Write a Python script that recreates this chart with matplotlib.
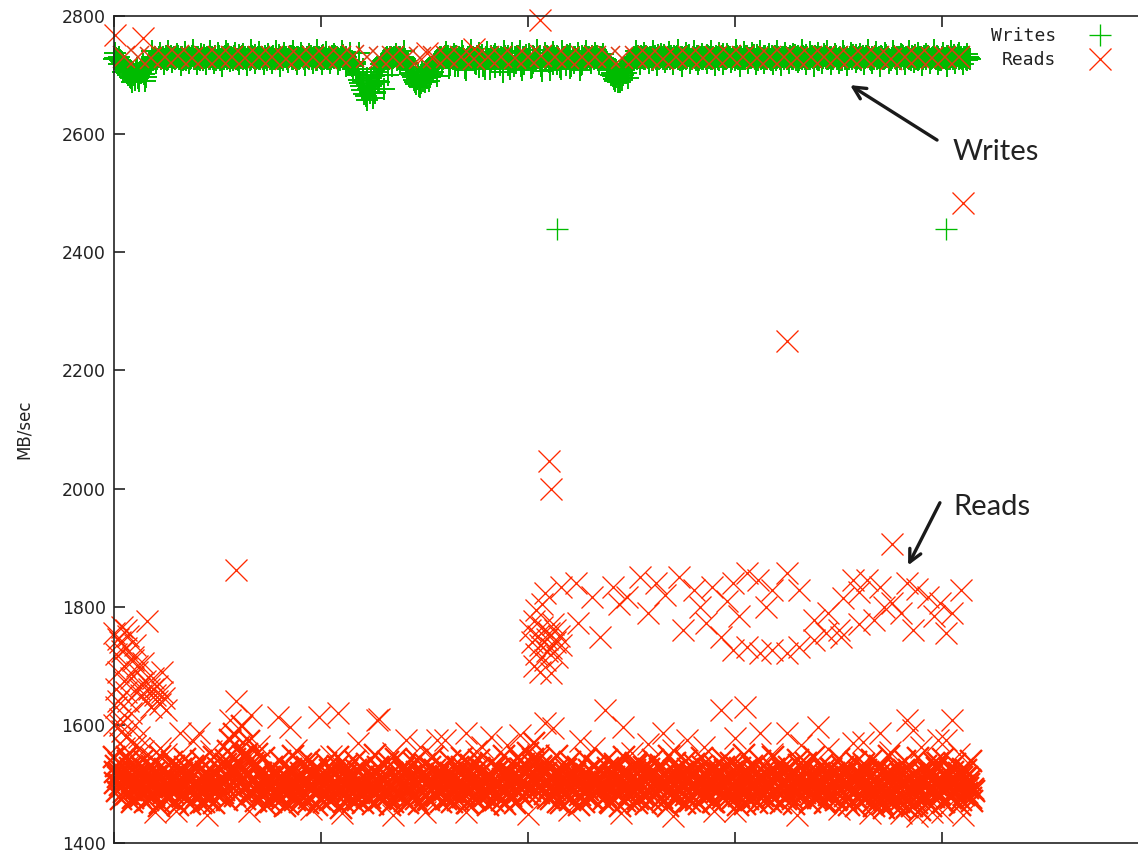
import numpy as np
import matplotlib
matplotlib.use("Agg")
import matplotlib.pyplot as plt

# ---------------- data (time in sample units, MB/sec) ----------------
writes_y = [
    2728,2729,2727,2726,2722,2715,2708,2700,2695,2705,2692,2712,2698,2703,2718,2690,2710,2720,2724,2727,2730,2728,2731,
    2729,2727,2732,2728,2730,2726,2731,2729,2733,2727,2730,2728,2725,2731,2729,2734,2727,2730,2728,2732,2726,2729,2731,
    2728,2730,2727,2733,2729,2726,2731,2728,2730,2735,2727,2729,2732,2728,2726,2730,2733,2729,2727,2731,2728,2730,2734,
    2729,2727,2731,2728,2733,2726,2730,2729,2732,2728,2727,2731,2729,2734,2730,2727,2732,2728,2730,2726,2731,2729,2733,
    2728,2730,2727,2732,2729,2731,2726,2730,2728,2734,2729,2727,2731,2728,2730,2733,2729,2726,2731,2728,2730,2725,2720,
    2715,2722,2705,2700,2687,2675,2668,2658,2680,2695,2662,2672,2700,2710,2718,2724,2728,2730,2727,2731,2729,2732,2728,
    2730,2726,2729,2724,2718,2710,2700,2692,2685,2698,2680,2705,2688,2695,2710,2702,2715,2722,2726,2729,2731,2728,2733,
    2729,2712,2730,2727,2732,2715,2729,2731,2728,2708,2730,2733,2727,2729,2718,2731,2728,2734,2710,2730,2727,2732,2729,
    2714,2731,2728,2730,2706,2733,2729,2727,2731,2716,2729,2732,2728,2709,2730,2734,2727,2729,2713,2731,2728,2730,2732,
    2707,2729,2733,2727,2731,2719,2729,2732,2728,2711,2730,2727,2734,2729,2715,2731,2728,2730,2708,2732,2729,2727,2731,
    2729,2733,2728,2730,2726,2731,2729,2727,2722,2716,2708,2698,2690,2702,2695,2705,2700,2712,2718,2724,2728,2731,2729,
    2732,2728,2730,2727,2733,2729,2731,2726,2730,2728,2734,2729,2727,2731,2728,2730,2732,2726,2729,2733,2728,2730,2727,
    2731,2729,2734,2728,2730,2726,2732,2729,2727,2731,2728,2733,2730,2727,2729,2732,2728,2730,2735,2727,2729,2731,2728,
    2730,2726,2733,2729,2731,2728,2727,2732,2729,2730,2734,2728,2726,2731,2729,2733,2727,2730,2728,2732,2729,2726,2731,
    2728,2730,2733,2727,2729,2731,2728,2734,2730,2726,2729,2732,2728,2730,2727,2733,2729,2731,2726,2730,2728,2735,2729,
    2727,2731,2728,2730,2733,2729,2726,2732,2728,2730,2727,2731,2734,2729,2728,2730,2726,2733,2729,2731,2727,2730,2728,
    2732,2729,2727,2731,2728,2734,2730,2726,2729,2732,2728,2730,2727,2733,2729,2731,2728,2726,2730,2734,2729,2727,2731,
    2728,2730,2732,2727,2729,2733,2728,2730,2726,2731,2729,2727,2732,2728,2730,2734,2729,2727,2731,2728,2730,2726,2729,
]
# second write sample in each time unit (t + 0.5)
writes_y2 = [
    2729,2727,2730,2724,2718,2710,2703,2697,2688,2700,2708,2695,2704,2713,2701,2696,2715,2722,2726,2729,2727,2730,2728,
    2731,2728,2726,2730,2733,2729,2727,2731,2728,2730,2726,2732,2729,2727,2733,2728,2730,2731,2726,2729,2734,2728,2730,
    2727,2731,2729,2726,2732,2728,2730,2733,2727,2729,2731,2726,2730,2728,2734,2729,2727,2731,2730,2726,2732,2729,2728,
    2731,2728,2730,2726,2729,2733,2727,2731,2728,2730,2734,2729,2726,2731,2728,2730,2732,2727,2729,2731,2728,2733,2730,
    2727,2729,2732,2728,2730,2726,2731,2729,2733,2727,2730,2728,2726,2732,2729,2731,2727,2730,2734,2728,2726,2722,2717,
    2710,2718,2702,2692,2682,2690,2665,2677,2670,2685,2698,2705,2690,2712,2721,2726,2729,2727,2731,2728,2730,2726,2731,
    2728,2730,2727,2721,2714,2704,2696,2688,2693,2682,2700,2690,2699,2707,2697,2712,2719,2724,2728,2730,2727,2731,2729,
    2733,2727,2730,2716,2728,2731,2729,2732,2712,2728,2730,2727,2731,2729,2733,2714,2730,2728,2731,2727,2711,2729,2732,
    2728,2730,2717,2729,2731,2727,2733,2710,2728,2730,2732,2727,2715,2731,2729,2728,2730,2712,2733,2727,2729,2731,2716,
    2730,2727,2731,2709,2729,2732,2728,2730,2714,2727,2731,2729,2733,2712,2728,2730,2727,2731,2717,2729,2733,2728,2730,
    2727,2731,2729,2733,2728,2730,2727,2725,2719,2712,2703,2694,2697,2688,2699,2692,2708,2704,2715,2721,2726,2729,2727,
    2730,2733,2729,2727,2731,2728,2730,2726,2732,2729,2727,2731,2734,2728,2730,2727,2729,2733,2731,2728,2726,2730,2729,
    2728,2732,2727,2730,2729,2733,2726,2731,2728,2730,2734,2729,2727,2731,2728,2730,2726,2732,2729,2727,2733,2730,2728,
    2731,2729,2727,2733,2728,2730,2732,2726,2729,2731,2728,2734,2730,2727,2729,2732,2728,2730,2726,2731,2733,2729,2727,
    2730,2728,2731,2729,2733,2727,2730,2726,2732,2729,2728,2731,2734,2727,2730,2729,2732,2728,2726,2731,2729,2733,2727,
    2729,2731,2727,2733,2728,2730,2726,2732,2729,2727,2731,2728,2730,2734,2729,2727,2731,2728,2733,2730,2726,2729,2732,
    2728,2730,2733,2727,2729,2731,2728,2726,2732,2729,2730,2727,2734,2728,2731,2729,2727,2733,2730,2728,2726,2731,2729,
    2732,2728,2730,2727,2731,2729,2733,2728,2726,2730,2729,2732,2727,2731,2728,2730,2734,2729,2727,2731,2728,2730,2727,
]
# wider-spread write samples every 2 time units (t = 2i + 0.25)
writes_y3 = [
    2738,2719,2705,2712,2696,2702,2690,2708,2716,2740,2720,2737,2718,2741,2722,2736,2717,2739,2721,2742,2719,2735,2718,
    2740,2720,2737,2716,2741,2723,2738,2719,2736,2717,2742,2721,2739,2718,2735,2720,2740,2716,2737,2722,2741,2719,2738,
    2717,2736,2720,2742,2718,2739,2721,2735,2719,2740,2716,2738,2722,2737,2710,2695,2682,2670,2688,2676,2700,2715,2736,
    2719,2741,2720,2708,2693,2686,2700,2690,2705,2698,2718,2739,2717,2736,2721,2740,2718,2742,2720,2737,2716,2739,2722,
    2736,2719,2741,2717,2738,2721,2740,2718,2735,2720,2742,2716,2737,2722,2739,2719,2741,2717,2736,2720,2738,2718,2740,
    2721,2737,2719,2736,2712,2700,2692,2688,2703,2695,2712,2740,2718,2738,2720,2741,2717,2736,2722,2739,2719,2742,2716,
    2737,2720,2740,2718,2735,2721,2741,2717,2738,2719,2736,2722,2742,2716,2739,2720,2737,2718,2740,2721,2736,2719,2741,
    2717,2738,2720,2735,2722,2742,2718,2739,2716,2737,2721,2740,2719,2736,2720,2741,2717,2738,2722,2735,2718,2742,2720,
    2739,2716,2737,2721,2740,2719,2736,2718,2741,2722,2738,2717,2735,2720,2742,2719,2737,2716,2740,2721,2738,2718,2736,
]
writes_out_x = [214, 402]
writes_out_y = [2439, 2440]

reads_band_y = [
    1545,1530,1512,1498,1520,1486,1505,1538,1490,1476,1510,1495,1482,1528,1500,1470,1515,1489,1502,1478,1520,1493,1468,1507,1485,1499,
    1512,1477,1495,1530,1488,1465,1503,1519,1482,1497,1474,1510,1491,1525,1480,1500,1468,1514,1487,1506,1473,1496,1521,1484,1502,1479,
    1509,1490,1540,1556,1575,1520,1585,1498,1560,1530,1598,1510,1545,1572,1488,1535,1506,1550,1492,1518,1478,1503,1486,1512,1470,1497,
    1483,1508,1492,1475,1516,1500,1466,1489,1522,1481,1504,1495,1470,1511,1487,1528,1476,1499,1514,1483,1465,1506,1492,1519,1479,1501,
    1488,1512,1474,1497,1531,1485,1503,1469,1515,1492,1480,1508,1496,1524,1472,1500,1487,1513,1478,1505,1493,1466,1518,1484,1501,1476,
    1509,1490,1527,1481,1498,1470,1514,1486,1503,1479,1520,1494,1467,1510,1488,1535,1475,1502,1491,1517,1482,1499,1473,1508,1495,1523,
    1480,1504,1469,1513,1490,1500,1477,1519,1486,1507,1472,1496,1529,1483,1511,1468,1502,1489,1516,1475,1498,1492,1521,1479,1505,1487,
    1514,1471,1499,1485,1526,1493,1508,1466,1497,1518,1480,1503,1490,1545,1512,1478,1534,1500,1552,1488,1520,1570,1505,1540,1495,1515,
    1483,1530,1502,1474,1511,1489,1497,1520,1468,1506,1484,1515,1492,1477,1509,1498,1525,1481,1503,1470,1516,1490,1507,1476,1499,1513,
    1486,1522,1473,1504,1495,1510,1467,1501,1488,1528,1479,1512,1494,1471,1517,1483,1506,1497,1531,1475,1500,1489,1519,1466,1508,1485,
    1514,1478,1502,1492,1525,1470,1505,1487,1511,1481,1498,1536,1474,1509,1490,1520,1468,1503,1484,1516,1495,1472,1507,1488,1530,1479,
    1500,1513,1482,1496,1469,1518,1491,1505,1476,1523,1487,1501,1473,1510,1494,1527,1480,1499,1516,1466,1504,1489,1512,1477,1497,1521,
    1484,1506,1471,1515,1493,1500,1478,1526,1488,1509,1467,1502,1519,1482,1495,1511,1474,1503,1490,1532,1479,1498,1485,1517,1470,1507,
    1492,1514,1476,1501,1488,1524,1469,1510,1496,1483,1518,1473,1505,1491,1528,1480,1499,1465,1512,1487,1503,1477,1520,1494,1508,1472,
    1496,1481,1513,1462,1500,1488,1475,1521,1459,1497,1484,1510,1466,1503,1490,1470,1517,1479,1505,1461,1494,1512,1483,1499,1468,1508,
    1486,1520,1474,1502,1491,1515,1478,1498,1535,1483,1507,1469,1512,1493,1525,1480,1503,1488,1518,1472,1496,1510,1484,1500,1477,1492,
]
# second read sample in each time unit (t + 0.5)
reads_band_y2 = [
    1502,1488,1519,1475,1496,1511,1483,1527,1469,1505,1492,1516,1478,1500,1486,1523,1472,1508,1495,1481,1514,1463,1499,1490,1526,1477,
    1497,1509,1484,1471,1518,1493,1505,1480,1529,1489,1466,1512,1498,1476,1521,1487,1503,1470,1515,1494,1482,1510,1468,1501,1491,1524,
    1485,1507,1473,1512,1496,1529,1480,1520,1502,1488,1548,1475,1514,1499,1483,1510,1471,1497,1518,1486,1505,1464,1493,1511,1480,1502,
    1517,1478,1498,1489,1463,1510,1484,1526,1494,1472,1508,1487,1519,1479,1501,1467,1496,1511,1484,1523,1490,1475,1506,1470,1514,1488,
    1473,1500,1519,1482,1491,1460,1506,1481,1524,1495,1514,1471,1489,1503,1485,1527,1468,1509,1493,1476,1516,1488,1500,1529,1474,1511,
    1495,1478,1504,1464,1519,1492,1483,1510,1497,1526,1471,1505,1488,1515,1479,1498,1521,1466,1507,1485,1513,1474,1528,1490,1503,1481,
    1511,1492,1486,1525,1475,1501,1514,1469,1496,1483,1518,1505,1478,1494,1467,1520,1487,1509,1473,1502,1527,1481,1497,1512,1465,1493,
    1488,1506,1528,1476,1502,1473,1515,1491,1484,1520,1499,1468,1510,1486,1525,1503,1494,1518,1479,1506,1532,1490,1512,1485,1528,1501,
    1519,1477,1495,1513,1485,1522,1469,1508,1493,1481,1526,1496,1472,1504,1517,1487,1464,1500,1515,1483,1492,1524,1476,1509,1486,1501,
    1504,1491,1516,1480,1527,1470,1497,1512,1483,1506,1462,1519,1488,1500,1475,1509,1492,1523,1467,1495,1514,1481,1503,1490,1526,1473,
    1492,1520,1485,1509,1476,1499,1516,1463,1504,1491,1522,1479,1508,1486,1497,1512,1482,1525,1471,1500,1488,1518,1466,1506,1494,1513,
    1481,1497,1524,1470,1509,1486,1517,1495,1529,1473,1504,1488,1520,1478,1502,1465,1511,1492,1484,1523,1475,1507,1496,1515,1468,1490,
    1510,1479,1498,1488,1521,1470,1506,1492,1516,1483,1526,1497,1474,1508,1487,1519,1466,1501,1512,1477,1495,1524,1489,1505,1481,1515,
    1476,1503,1519,1486,1497,1468,1511,1482,1527,1493,1500,1475,1514,1489,1506,1471,1521,1496,1484,1510,1463,1502,1517,1480,1499,1523,
    1512,1488,1470,1505,1483,1526,1494,1466,1509,1480,1519,1497,1473,1515,1486,1460,1502,1524,1477,1508,1490,1463,1517,1483,1496,1456,
    1503,1477,1494,1518,1462,1508,1486,1527,1481,1499,1470,1514,1490,1505,1476,1521,1487,1497,1465,1511,1482,1524,1493,1506,1471,1488,
]
# upper part of the read band, every 2 time units (t = 2i + 0.25)
reads_band_y3 = [
    1520,1535,1508,1545,1512,1528,1500,1540,1517,1531,1505,1548,1523,1510,1537,1502,1526,1543,1514,1530,1498,1539,1521,1509,1546,1527,
    1503,1534,1518,1542,1511,1525,1550,1506,1532,1519,1544,1501,1529,1515,1538,1507,1523,1547,1512,1533,1499,1541,1520,1528,1510,1536,
    1524,1504,1545,1516,1531,1508,1539,1521,1500,1534,1513,1549,1526,1505,1537,1518,1543,1509,1530,1522,1502,1540,1515,1533,1507,1546,
    1519,1527,1511,1538,1503,1529,1544,1514,1532,1506,1541,1523,1510,1536,1501,1525,1547,1517,1534,1508,1539,1520,1513,1542,1504,1530,
    1516,1535,1509,1548,1522,1502,1537,1518,1528,1511,1543,1505,1531,1524,1499,1540,1514,1533,1507,1545,1521,1510,1536,1503,1529,1517,
    1541,1506,1532,1519,1547,1512,1526,1500,1538,1515,1534,1508,1544,1523,1504,1530,1518,1542,1510,1535,1501,1527,1549,1513,1531,1507,
    1539,1520,1511,1545,1516,1533,1503,1528,1522,1540,1509,1536,1514,1546,1505,1532,1519,1525,1502,1543,1517,1529,1508,1537,1512,1534,
    1521,1541,1506,1530,1515,1548,1510,1527,1500,1538,1523,1513,1544,1504,1531,1518,1536,1509,1542,1520,1507,1533,1516,1526,1511,1539,
]

# reads that sit inside the writes band (one every 6.5 time units from t=5)
reads_top_y = [
    2730,2731,2729,2730,2732,2729,2730,2731,2730,2729,2731,2730,2728,2730,2731,2729,2730,2732,2730,2729,
    2731,2730,2729,2730,2731,2730,2728,2730,2731,2729,2730,2732,2730,2729,2731,2730,2730,2729,2731,2730,
    2728,2731,2730,2729,2730,2732,2730,2729,2731,2730,2729,2730,2731,2730,2729,2731,2730,2728,2730,2731,
    2729,2730,2731,
]

early_x = [0, 1, 2, 3, 4, 5, 6, 7, 8, 9, 10, 11, 12, 13, 14, 15, 16, 17, 18, 19, 20,
           21, 22, 23, 24, 25, 1, 2, 3, 4, 5, 6, 7, 8, 10, 12, 0, 1, 3, 5,
           2, 4, 6, 9, 11, 13, 15, 19, 21, 23]
early_y = [1755, 1720, 1690, 1740, 1765, 1700, 1730, 1750, 1680, 1715, 1735, 1690, 1660, 1670,
           1705, 1640, 1775, 1660, 1630, 1680, 1650, 1665, 1635, 1690, 1645, 1625, 1660, 1640,
           1610, 1590, 1675, 1655, 1640, 1620, 1600, 1580, 1600, 1630, 1570, 1560,
           1745, 1725, 1760, 1710, 1700, 1650, 1675, 1660, 1640, 1655]

near_x = [3, 6, 10, 14, 18, 22, 32, 41, 56, 59, 66, 79, 85, 99, 108, 127, 128, 141, 156, 170,
          178, 182, 196, 237, 246, 265, 277, 293, 305, 312, 325, 340, 357, 370, 383, 386, 402, 405,
          30, 95, 150, 220, 290, 350, 380, 395, 410, 208, 212,
          12, 25, 38, 47, 70, 88, 105, 118, 135, 148, 160, 175, 190, 205, 225, 232, 250, 258, 270,
          285, 300, 318, 332, 345, 362, 375, 390, 398, 408,
          20, 45, 65, 110, 135, 170, 200, 245, 270, 300, 330, 365, 388, 400]
near_y = [1600, 1580, 1565, 1555, 1545, 1560, 1586, 1586, 1608, 1641, 1616, 1613, 1596, 1613, 1620,
          1608, 1610, 1575, 1575, 1586, 1562, 1579, 1583, 1625, 1596, 1586, 1575, 1625, 1630, 1586,
          1586, 1596, 1569, 1586, 1608, 1591, 1575, 1608,
          1455, 1458, 1452, 1456, 1454, 1457, 1450, 1452, 1448, 1603, 1595,
          1560, 1550, 1572, 1555, 1565, 1558, 1548, 1570, 1552, 1562, 1575, 1556, 1566, 1549, 1572,
          1560, 1553, 1568, 1557, 1562, 1578, 1551, 1566, 1559, 1571, 1554, 1563, 1574, 1550,
          1452, 1448, 1455, 1450, 1447, 1453, 1449, 1451, 1446, 1454, 1448, 1450, 1445, 1452]

upper_x = [201, 202, 203, 204, 205, 206, 207, 208, 209, 210, 211, 212, 213, 214, 215, 203, 206,
           209, 211, 213, 216, 204, 207,
           208, 216, 223, 231, 241, 248, 254, 262, 273, 280, 289, 299, 306, 311, 318, 325, 331,
           224, 235, 275, 286, 293, 299, 306, 312, 318, 325, 331, 338, 344, 351, 338,
           357, 364, 370, 376, 383, 386, 393, 399, 402, 409, 367,
           244, 258, 266, 283, 296, 302, 315, 345, 352, 360, 372, 380, 388, 396, 405, 350, 360]
upper_y = [1760, 1740, 1775, 1720, 1750, 1735, 1765, 1710, 1745, 1755, 1730, 1770, 1740, 1715, 1750,
           1700, 1690, 1725, 1687, 1760, 1735, 1795, 1805,
           1824, 1833, 1840, 1816, 1833, 1816, 1850, 1840, 1850, 1828, 1833, 1840, 1857, 1845, 1828,
           1857, 1828,
           1772, 1748, 1760, 1772, 1748, 1726, 1731, 1721, 1726, 1721, 1731, 1743, 1755, 1748, 1777,
           1845, 1845, 1833, 1806, 1840, 1760, 1816, 1806, 1755, 1828, 1777,
           1805, 1790, 1820, 1800, 1810, 1785, 1800, 1790, 1815, 1825, 1800, 1790, 1830, 1785, 1790,
           1760, 1770]

outlier_x = [0.5, 14, 206, 410, 325, 59, 210, 211, 376, 151, 174]
outlier_y = [2768, 2763, 2793, 2483, 2250, 1862, 2047, 2000, 1906, 2737, 2744]

y_ticks = [1400, 1600, 1800, 2000, 2200, 2400, 2600, 2800]
x_ticks = [0, 100, 200, 300, 400, 500]

GREEN = "#00bb00"
RED = "#ff2a00"

# ---------------- figure ----------------
fig = plt.figure(figsize=(11.38, 8.55), dpi=100)
L, R, T, B = 114, 1149, 16, 843
ax = fig.add_axes([L / 1138, 1 - B / 855, (R - L) / 1138, (B - T) / 855])

ms = 16.5
mew = 0.95       # isolated points
mew_wdense = 1.4  # heavily overplotted write band
mew_rdense = 1.7  # heavily overplotted read band

wx = np.arange(len(writes_y))
wx2 = np.arange(len(writes_y2)) + 0.5
wx3 = 2 * np.arange(len(writes_y3)) + 0.25
for xs, ys in [(wx, writes_y), (wx2, writes_y2), (wx3, writes_y3)]:
    ax.plot(xs, ys, ls="none", marker="+", ms=ms, mew=mew_wdense, color=GREEN,
            clip_on=False)
ax.plot(writes_out_x, writes_out_y, ls="none", marker="+", ms=ms, mew=mew,
        color=GREEN, clip_on=False, label="Writes")

rx = np.arange(len(reads_band_y))
rx2 = np.arange(len(reads_band_y2)) + 0.5
rx3 = 2 * np.arange(len(reads_band_y3)) + 0.25
rtx = 5 + 6.5 * np.arange(len(reads_top_y))
for xs, ys in [(rx, reads_band_y), (rx2, reads_band_y2), (rx3, reads_band_y3)]:
    ax.plot(xs, ys, ls="none", marker="x", ms=ms, mew=mew_rdense, color=RED,
            clip_on=False)
ax.plot(rtx, reads_top_y, ls="none", marker="x", ms=ms, mew=1.1, color="#e03a10",
        clip_on=False)
for xs, ys in [(early_x, early_y), (near_x, near_y), (upper_x, upper_y)]:
    ax.plot(xs, ys, ls="none", marker="x", ms=ms, mew=mew, color=RED, clip_on=False)
ax.plot(outlier_x, outlier_y, ls="none", marker="x", ms=ms, mew=mew, color=RED,
        clip_on=False, label="Reads")

ax.set_xlim(0, 500)
ax.set_ylim(1400, 2800)
ax.set_yticks(y_ticks)
ax.set_xticks(x_ticks)
ax.set_xticklabels([])
ax.tick_params(axis="both", direction="in", length=8, width=1.2, color="#222222")
ax.tick_params(axis="x", top=True, bottom=True)
ax.tick_params(axis="y", left=True, right=True, labelsize=12.5, pad=6,
               labelcolor="#222222")
for s in ax.spines.values():
    s.set_linewidth(1.2)
    s.set_color("#222222")

ax.set_ylabel("MB/sec", fontsize=12, color="#222222")
ax.yaxis.set_label_coords(-0.078, 0.5)

leg = ax.legend(loc="upper right", bbox_to_anchor=(1118 / 1138, 1 - 27 / 855),
                bbox_transform=fig.transFigure, frameon=False, markerfirst=False,
                prop={"family": "DejaVu Sans Mono", "size": 13},
                handlelength=2.0, handletextpad=1.4, labelspacing=0.33,
                borderpad=0, borderaxespad=0)
for t in leg.get_texts():
    t.set_color("#222222")

# annotations
ax.annotate("", xy=(355.6, 2683), xytext=(397.6, 2590),
            arrowprops=dict(arrowstyle="->", lw=2.4, color="#1a1a1a",
                            mutation_scale=22, shrinkA=0, shrinkB=0))
ax.text(405.3, 2570, "Writes", fontsize=21, family="Lato", color="#222222",
        ha="left", va="center")
ax.annotate("", xy=(383.6, 1870), xytext=(399, 1976),
            arrowprops=dict(arrowstyle="->", lw=2.4, color="#1a1a1a",
                            mutation_scale=22, shrinkA=0, shrinkB=0))
ax.text(405.3, 1969, "Reads", fontsize=21, family="Lato", color="#222222",
        ha="left", va="center")

fig.savefig("out.png", dpi=100)
